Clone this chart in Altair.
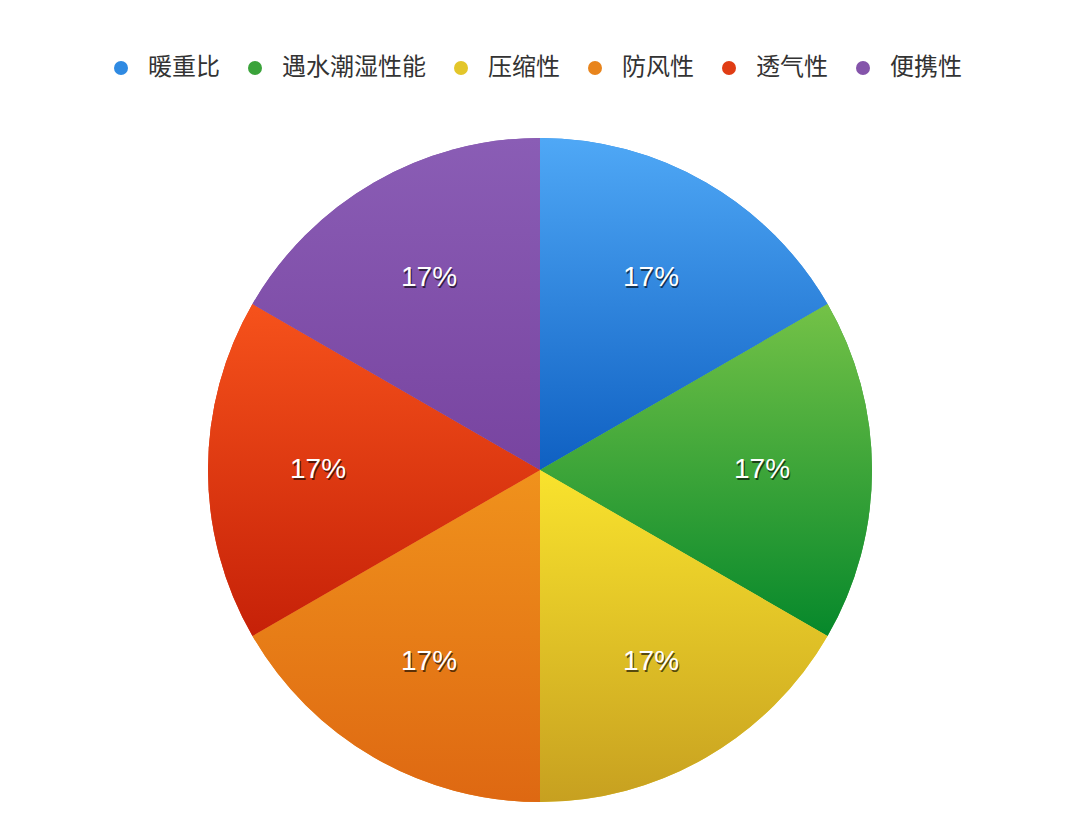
import altair as alt
import pandas as pd

categories = ["暖重比", "遇水潮湿性能", "压缩性", "防风性", "透气性", "便携性"]
values = [1, 1, 1, 1, 1, 1]
labels = ["17%", "17%", "17%", "17%", "17%", "17%"]
legend_colors = ["#2f8ae2", "#3aa33a", "#e3c62a", "#e8841c", "#e03c14", "#8454aa"]
grad_top = ["#4fa8f6", "#74c247", "#f9e32d", "#f0921c", "#f6521b", "#8a5db5"]
grad_bottom = ["#0f60c2", "#06882b", "#c7a020", "#de6812", "#c62108", "#7844a0"]

df = pd.DataFrame({
    "cat": categories,
    "value": values,
    "label": labels,
    "order": list(range(len(categories))),
})

CX, CY, R = 532, 462, 332


def grad(top, bottom):
    return {
        "gradient": "linear",
        "x1": 0, "y1": 0, "x2": 0, "y2": 1,
        "stops": [{"offset": 0, "color": top}, {"offset": 1, "color": bottom}],
    }


conds = [
    {"test": f"datum.cat === '{c}'", "value": grad(t, b)}
    for c, t, b in zip(categories[:-1], grad_top[:-1], grad_bottom[:-1])
]
fill_def = {"condition": conds, "value": grad(grad_top[-1], grad_bottom[-1])}

base = alt.Chart(df).encode(
    theta=alt.Theta("value:Q", stack=True),
    order=alt.Order("order:Q"),
    x=alt.value(CX),
    y=alt.value(CY),
)

solid = base.mark_arc(radius=R, strokeWidth=0).encode(
    color=alt.Color(
        "cat:N",
        scale=alt.Scale(domain=categories, range=legend_colors),
        sort=categories,
        legend=alt.Legend(
            title=None,
            orient="none",
            direction="horizontal",
            legendX=101,
            legendY=48,
            padding=0,
            symbolType="circle",
            symbolSize=196,
            symbolStrokeWidth=0,
            labelFont="Noto Sans CJK SC",
            labelFontSize=24,
            labelColor="#333333",
            labelOffset=15,
            columnPadding=23,
            labelLimit=400,
        ),
    )
)

gradient = base.mark_arc(radius=R, strokeWidth=0).encode(fill=fill_def)

shadow = base.mark_text(
    radius=222, fontSize=28, font="Liberation Sans", color="#000000",
    opacity=0.6, dx=1.2, dy=1.8,
).encode(text="label:N")

text = base.mark_text(
    radius=222, fontSize=28, font="Liberation Sans", color="#ffffff",
).encode(text="label:N")

chart = alt.layer(solid, gradient, shadow, text).properties(
    width=1064,
    height=816,
    padding=0,
    background="#ffffff",
    autosize=alt.AutoSizeParams(type="none"),
).configure_view(stroke=None)

chart.save("out.html", embed_options={"renderer": "svg", "actions": False})
